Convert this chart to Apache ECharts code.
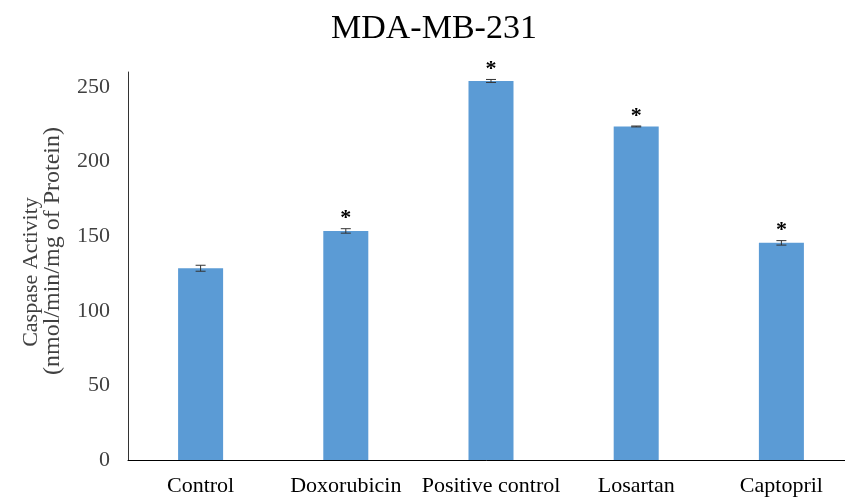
<!DOCTYPE html>
<html><head><meta charset="utf-8">
<script src="https://cdn.jsdelivr.net/npm/echarts@6/dist/echarts.min.js"></script>
<style>html,body{margin:0;padding:0;background:#fff}#c{width:845px;height:498px}</style>
</head><body><div id="c"></div>
<script>
const categories = ['Control','Doxorubicin','Positive control','Losartan','Captopril'];
const values = [128.5, 153.5, 254, 223.5, 145.5];
const errors = [2, 1.5, 1, 0.3, 1.5];
const marks = ['', '*', '*', '*', '*'];
const yTicks = [0, 50, 100, 150, 200, 250];
const yTitle = ['Caspase Activity', '(nmol/min/mg of Protein)'];

const font = '"Liberation Serif", "Times New Roman", serif';
const chart = echarts.init(document.getElementById('c'));
chart.setOption({
  animation: false,
  backgroundColor: '#fff',
  title: { text: 'MDA-MB-231', left: 326, top: 7,
    textStyle: { fontFamily: font, fontSize: 34, fontWeight: 'normal', color: '#000' } },
  grid: { left: 128, right: -9, top: 72, bottom: 38, outerBoundsMode: 'none', containLabel: false },
  xAxis: { type: 'category', data: categories,
    axisLine: { lineStyle: { color: '#000', width: 1 } },
    axisTick: { show: false },
    axisLabel: { fontFamily: font, fontSize: 22, color: '#000', margin: 15, interval: 0 } },
  yAxis: { type: 'value', min: 0, max: 260, interval: 50,
    axisLine: { show: true, lineStyle: { color: '#333' } },
    axisTick: { show: false }, splitLine: { show: false },
    axisLabel: { fontFamily: font, fontSize: 22, color: '#404040', margin: 18,
      formatter: v => yTicks.indexOf(v) >= 0 ? String(v) : '' },
    name: '{a|' + yTitle[0] + '}\n{b|' + yTitle[1] + '}', nameLocation: 'middle', nameGap: 64, nameRotate: 90,
    nameMoveOverlap: false,
    nameTextStyle: { fontFamily: font, color: '#404040',
      rich: {
        a: { fontFamily: font, fontSize: 22, color: '#404040', lineHeight: 21, padding: [0, 12, 0, 0] },
        b: { fontFamily: font, fontSize: 24, color: '#404040', lineHeight: 22, padding: [0, 0, 0, 30] }
      } } },
  series: [
    { type: 'bar', data: values, barWidth: '31%', itemStyle: { color: '#5B9BD5' } },
    { type: 'custom', data: values.map((v,i)=>[i, v, errors[i]]), z: 10,
      renderItem: function(params, api) {
        const i = api.value(0), v = api.value(1), e = api.value(2);
        const top = api.coord([i, v + e]), bot = api.coord([i, v - e]);
        const x = top[0], hw = 5;
        const s = { stroke: '#333', lineWidth: 1 };
        const children = [
          { type: 'line', shape: { x1: x, y1: top[1], x2: x, y2: bot[1] }, style: s },
          { type: 'line', shape: { x1: x-hw, y1: top[1], x2: x+hw, y2: top[1] }, style: s },
          { type: 'line', shape: { x1: x-hw, y1: bot[1], x2: x+hw, y2: bot[1] }, style: s }
        ];
        const m = marks[params.dataIndex];
        if (m) children.push({ type: 'text', x: x, y: top[1] + 1,
          style: { text: m, fill: '#000', font: 'bold 22px ' + font, align: 'center', verticalAlign: 'bottom' } });
        return { type: 'group', children: children };
      } }
  ]
});
</script></body></html>
